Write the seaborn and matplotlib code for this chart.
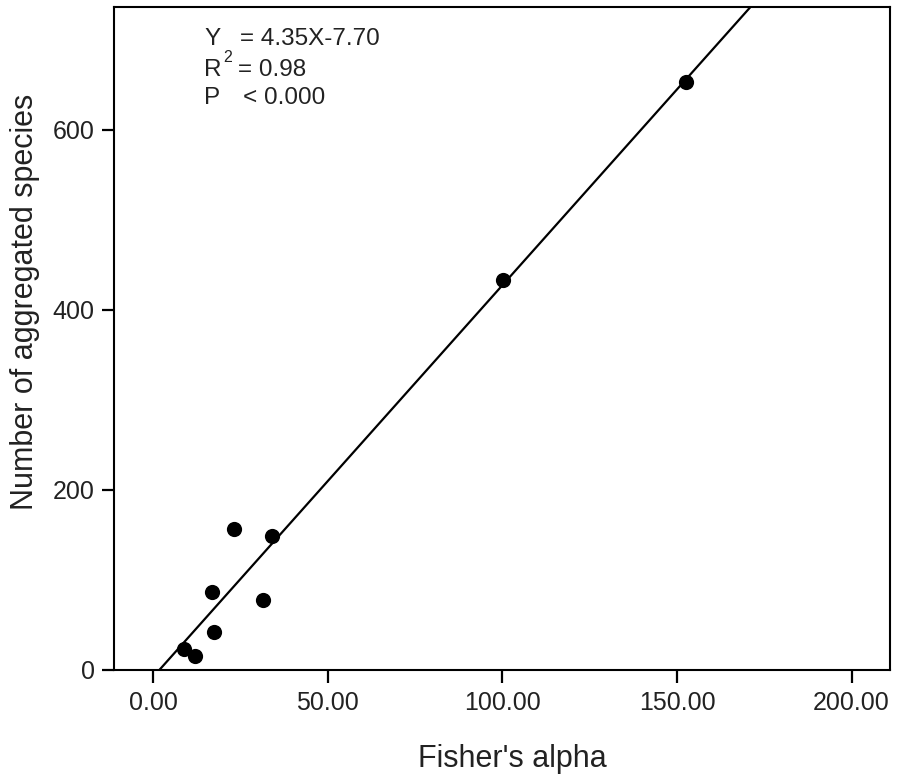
import numpy as np
import pandas as pd
import matplotlib
matplotlib.use("Agg")
import matplotlib.pyplot as plt
import seaborn as sns

# Fisher's alpha vs number of aggregated species per plot
fisher_alpha = [8.9, 12.1, 17.3, 16.9, 31.6, 23.2, 34.0, 100.3, 152.5]
aggregated_species = [23.0, 15.5, 42.6, 86.7, 77.8, 156.3, 149.2, 433.3, 652.6]

# Fitted regression
slope = 4.35
intercept = -7.70
r_squared = 0.98

x_ticks = [0, 50, 100, 150, 200]
x_tick_labels = ["0.00", "50.00", "100.00", "150.00", "200.00"]
y_ticks = [0, 200, 400, 600]

sns.set_style("ticks")
plt.rcParams["font.family"] = ["Liberation Sans", "DejaVu Sans"]

df = pd.DataFrame({"alpha": fisher_alpha, "species": aggregated_species})

fig = plt.figure(figsize=(9, 7.76), dpi=100)
ax = fig.add_axes([0.1267, 0.1366, 0.8622, 0.854])

xlim = (-11.2, 211.0)
ylim = (0, 736)

line_x = np.linspace(xlim[0], xlim[1], 200)
line_df = pd.DataFrame({"alpha": line_x, "species": slope * line_x + intercept})
sns.lineplot(data=line_df, x="alpha", y="species", color="black", linewidth=1.6, ax=ax)

sns.scatterplot(data=df, x="alpha", y="species", color="black", s=120,
                edgecolor="black", linewidth=0, ax=ax, zorder=3)

ax.set_xlim(*xlim)
ax.set_ylim(*ylim)
ax.set_xticks(x_ticks)
ax.set_xticklabels(x_tick_labels)
ax.set_yticks(y_ticks)

for side in ["left", "right", "top", "bottom"]:
    ax.spines[side].set_visible(True)
    ax.spines[side].set_linewidth(1.5)
    ax.spines[side].set_color("black")

ax.tick_params(axis="both", direction="out", length=9, width=1.6,
               labelsize=18, colors="black", labelcolor="#222222")
ax.tick_params(axis="x", pad=6)
ax.tick_params(axis="y", pad=5)

ax.set_xlabel("Fisher's alpha", fontsize=22, color="#222222")
ax.set_ylabel("Number of aggregated species", fontsize=22, color="#222222")
ax.xaxis.set_label_coords(0.5135, -0.112)
ax.yaxis.set_label_coords(-0.095, 0.556)

# Regression summary
fs = 17.5
tc = "#222222"
def px(x, y):
    return x / 900.0, 1 - y / 776.0

fig.text(*px(204, 39), "Y", fontsize=fs, color=tc, va="center", ha="left")
fig.text(*px(240, 39), f"= {slope:.2f}X{intercept:.2f}", fontsize=fs, color=tc, va="center", ha="left")
fig.text(*px(204, 69.5), "R", fontsize=fs, color=tc, va="center", ha="left")
fig.text(*px(223, 57), "2", fontsize=11.5, color=tc, va="center", ha="left")
fig.text(*px(238, 69.5), f"= {r_squared:.2f}", fontsize=fs, color=tc, va="center", ha="left")
fig.text(*px(204, 97.5), "P", fontsize=fs, color=tc, va="center", ha="left")
fig.text(*px(243, 97.5), "< 0.000", fontsize=fs, color=tc, va="center", ha="left")

fig.savefig("out.png", dpi=100)
